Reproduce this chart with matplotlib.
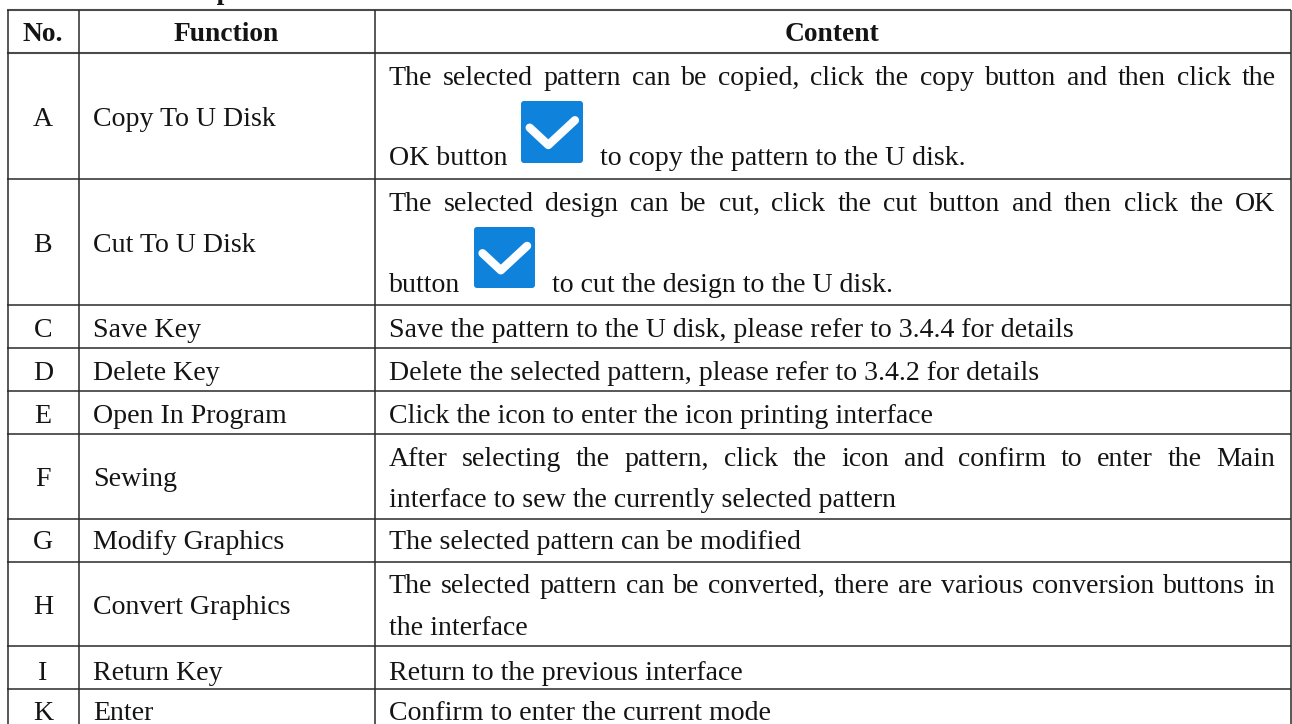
import matplotlib
matplotlib.use("Agg")
import matplotlib.pyplot as plt
from matplotlib.patches import FancyBboxPatch

W, H = 1292, 724
FONT = "Liberation Serif"
SIZE = 20.05
BOLD_SIZE = 19.85
TEXT = "#141414"

title = "5. Function Description:"
headers = ["No.", "Function", "Content"]
col_x = [7.5, 78.5, 374.5, 1290.5]
row_y = [10, 52.5, 179, 305, 348, 391, 434, 518.5, 561.5, 646, 689]
nos = ["A", "B", "C", "D", "E", "F", "G", "H", "I", "K"]
functions = ["Copy To U Disk", "Cut To U Disk", "Save Key", "Delete Key", "Open In Program",
             "Sewing", "Modify Graphics", "Convert Graphics", "Return Key", "Enter"]
no_base = [126, 252, 337, 380, 423, 486, 549, 614, 680, 720]
# (baseline, text, justified)
content = [
    (85, "The selected pattern can be copied, click the copy button and then click the", True),
    (211, "The selected design can be cut, click the cut button and then click the OK", True),
    (337, "Save the pattern to the U disk, please refer to 3.4.4 for details", False),
    (380, "Delete the selected pattern, please refer to 3.4.2 for details", False),
    (423, "Click the icon to enter the icon printing interface", False),
    (466, "After selecting the pattern, click the icon and confirm to enter the Main", True),
    (507, "interface to sew the currently selected pattern", False),
    (549, "The selected pattern can be modified", False),
    (593, "The selected pattern can be converted, there are various conversion buttons in", True),
    (635, "the interface", False),
    (680, "Return to the previous interface", False),
    (720, "Confirm to enter the current mode", False),
]
# (baseline, x, text)
icon_lines = [
    (165, 389, "OK button"), (165, 600, "to copy the pattern to the U disk."),
    (292, 389, "button"), (292, 552.5, "to cut the design to the U disk."),
]
icons = [(521, 101, 62), (474, 227, 61)]
check_shape = [(0.14, 0.43), (0.44, 0.71), (0.87, 0.31)]

fig = plt.figure(figsize=(W / 100, H / 100), dpi=100)
ax = fig.add_axes([0, 0, 1, 1])
ax.set_xlim(0, W)
ax.set_ylim(H, 0)
ax.axis("off")

def put(x, y, s, ha="left", weight="normal", size=SIZE):
    return ax.text(x, y, s, family=FONT, fontsize=size, color=TEXT, ha=ha, va="baseline", fontweight=weight)

for i, y in enumerate(row_y):
    c, lw = ("#4a4a4a", 1.5) if i < 2 else ("#2a2a2a", 1.1)
    ax.plot([col_x[0] - 0.5, col_x[-1] + 0.5], [y, y], color=c, lw=lw, solid_capstyle="butt")
for x in col_x:
    ax.plot([x, x], [row_y[0], H], color="#2a2a2a", lw=1.1, solid_capstyle="butt")

put(2, -1, title, weight="bold", size=BOLD_SIZE)
hdr_centers = [(col_x[i] + col_x[i + 1]) / 2 for i in range(3)]
for cx, s in zip(hdr_centers, headers):
    put(cx, 41, s, ha="center", weight="bold", size=BOLD_SIZE)
for n, f, y in zip(nos, functions, no_base):
    put(hdr_centers[0], y, n, ha="center")
    put(93, y, f)

renderer = fig.canvas.get_renderer()
LEFT, RIGHT = 389, 1276
for y, s, just in content:
    if not just:
        put(LEFT, y, s)
        continue
    words = s.split(" ")
    arts = [put(LEFT, y, w) for w in words]
    widths = [a.get_window_extent(renderer).width for a in arts]
    gap = (RIGHT - LEFT - sum(widths)) / (len(words) - 1)
    x = LEFT - 0.6
    for a, w in zip(arts, widths):
        a.set_x(x)
        x += w + gap
for y, x, s in icon_lines:
    put(x, y, s)

for x0, y0, sz in icons:
    ax.add_patch(FancyBboxPatch((x0 + 3, y0 + 3), sz - 6, sz - 6, boxstyle="round,pad=3,rounding_size=3",
                                fc="#0f82dc", ec="none", zorder=3))
    ax.plot([x0 + a * sz for a, b in check_shape], [y0 + b * sz for a, b in check_shape],
            color="#fbfdff", lw=6, solid_capstyle="round", solid_joinstyle="round", zorder=4)

fig.savefig("out.png", dpi=100)
